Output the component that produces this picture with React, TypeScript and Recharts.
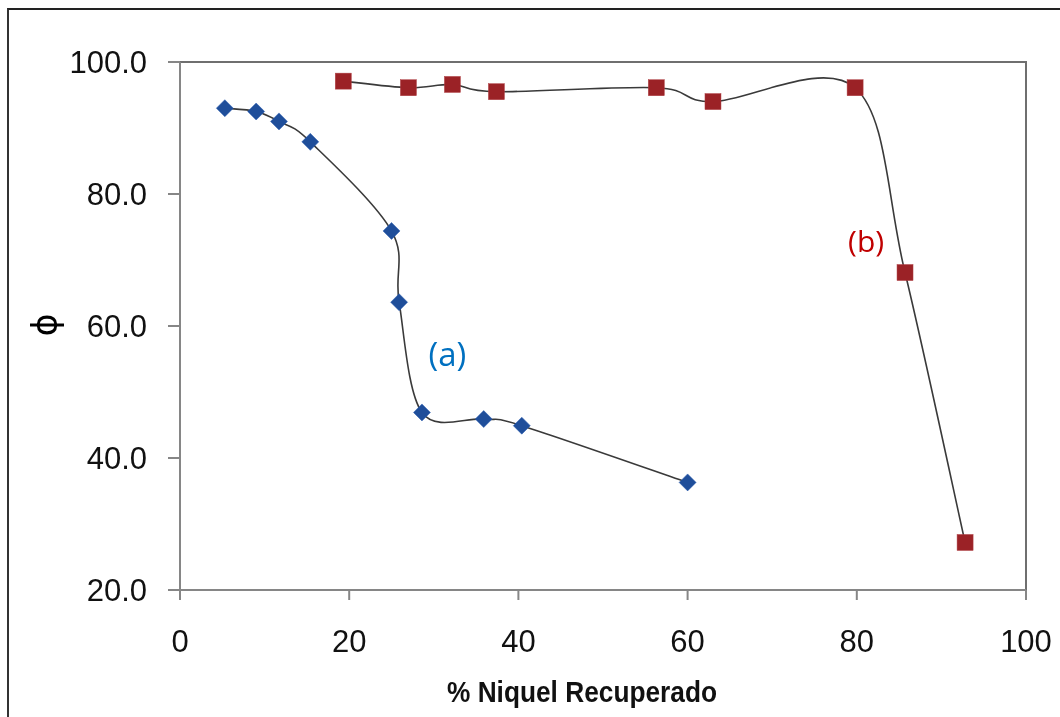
import React from 'react';
import { ComposedChart, Line, XAxis, YAxis, ReferenceArea, ReferenceDot } from 'recharts';

// Series (a): blue diamonds
const seriesAX = [5.3, 9.0, 11.7, 15.4, 25.0, 25.9, 28.6, 35.9, 40.4, 60.0];
const seriesAY = [93.0, 92.5, 91.0, 87.9, 74.4, 63.6, 46.9, 45.9, 44.9, 36.3];
// Series (b): red squares
const seriesBX = [19.3, 27.0, 32.2, 37.4, 56.3, 63.0, 79.8, 85.7, 92.8];
const seriesBY = [97.1, 96.1, 96.6, 95.5, 96.1, 94.0, 96.1, 68.1, 27.2];

const xTicks = [0, 20, 40, 60, 80, 100];
const yTicks = [20, 40, 60, 80, 100];

const xTitle = '% Niquel Recuperado';
const yTitle = 'ϕ';
const annotations = [
  { x: 31.6, y: 55.8, text: '(a)', color: '#0070C0', size: 33 },
  { x: 81.1, y: 72.9, text: '(b)', color: '#C00000', size: 30 },
];

const dataA = seriesAX.map((x, i) => ({ x, y: seriesAY[i] }));
const dataB = seriesBX.map((x, i) => ({ x, y: seriesBY[i] }));

// Excel-like smoothed curve (Catmull-Rom as cubic Bezier)
const excelCurve: any = (context: any) => {
  let pts: number[][] = [];
  return {
    areaStart() {},
    areaEnd() {},
    lineStart() {
      pts = [];
    },
    point(x: number, y: number) {
      pts.push([+x, +y]);
    },
    lineEnd() {
      const n = pts.length;
      if (!n) return;
      context.moveTo(pts[0][0], pts[0][1]);
      for (let i = 0; i < n - 1; i++) {
        const p0 = pts[i - 1] || pts[i];
        const p1 = pts[i];
        const p2 = pts[i + 1];
        const p3 = pts[i + 2] || pts[i + 1];
        context.bezierCurveTo(
          p1[0] + (p2[0] - p0[0]) / 6,
          p1[1] + (p2[1] - p0[1]) / 6,
          p2[0] - (p3[0] - p1[0]) / 6,
          p2[1] - (p3[1] - p1[1]) / 6,
          p2[0],
          p2[1]
        );
      }
    },
  };
};

const Diamond = (props: any) => {
  const { cx, cy, index } = props;
  if (cx == null || cy == null) return <g key={`d-${index}`} />;
  const r = 8.5;
  return (
    <path
      key={`d-${index}`}
      d={`M${cx},${cy - r}L${cx + r},${cy}L${cx},${cy + r}L${cx - r},${cy}Z`}
      fill="#1F4E9A"
      stroke="#2a5cb0"
      strokeWidth={0.5}
    />
  );
};

const Square = (props: any) => {
  const { cx, cy, index } = props;
  if (cx == null || cy == null) return <g key={`s-${index}`} />;
  const s = 16;
  return (
    <rect
      key={`s-${index}`}
      x={cx - s / 2}
      y={cy - s / 2}
      width={s}
      height={s}
      fill="#9B2226"
      stroke="#b04045"
      strokeWidth={0.5}
    />
  );
};

const FONT = '"Liberation Sans", Arial, sans-serif';

export default function App() {
  return (
    <div style={{ position: 'relative', width: 1044, height: 701 }}>
      <div
        style={{
          position: 'fixed',
          left: 7,
          top: 8,
          width: 1060,
          height: 717,
          borderTop: '2px solid #222',
          borderLeft: '2px solid #333',
          pointerEvents: 'none',
        }}
      />
      <ComposedChart
        width={1044}
        height={701}
        margin={{ top: 54, right: 26, left: 0, bottom: 0 }}
        style={{ fontFamily: FONT }}
      >
        <XAxis
          type="number"
          dataKey="x"
          domain={[0, 100]}
          ticks={xTicks}
          interval={0}
          height={119}
          tickSize={10}
          tickMargin={30}
          axisLine={{ stroke: '#868686', strokeWidth: 2 }}
          tickLine={{ stroke: '#868686', strokeWidth: 2 }}
          tick={{ fill: '#111', fontSize: 31, fontFamily: FONT }}
          allowDataOverflow
          label={{
            content: (p: any) => {
              const vb = p.viewBox || { x: 172, y: 582, width: 846 };
              return (
                <text
                  x={vb.x + vb.width / 2 - 21}
                  y={vb.y + 112}
                  textAnchor="middle"
                  fontFamily='"Liberation Sans Narrow", "Liberation Sans", sans-serif'
                  fontWeight="bold"
                  fontSize={29}
                  fill="#111"
                  textLength={270}
                  lengthAdjust="spacingAndGlyphs"
                >
                  {xTitle}
                </text>
              );
            },
          }}
        />
        <YAxis
          type="number"
          dataKey="y"
          domain={[20, 100]}
          ticks={yTicks}
          interval={0}
          width={172}
          tickSize={12}
          tickMargin={21}
          axisLine={{ stroke: '#868686', strokeWidth: 2 }}
          tickLine={{ stroke: '#868686', strokeWidth: 2 }}
          tick={{ fill: '#111', fontSize: 31, fontFamily: FONT }}
          tickFormatter={(v: number) => v.toFixed(1)}
          allowDataOverflow
          label={{
            content: (p: any) => {
              const vb = p.viewBox || { x: 0, y: 54, height: 528 };
              const cx = 37;
              const cy = vb.y + vb.height / 2 - 1;
              return (
                <text
                  x={cx}
                  y={cy}
                  textAnchor="middle"
                  dominantBaseline="central"
                  fontFamily='"DejaVu Sans", sans-serif'
                  fontSize={35}
                  fill="#000"
                  transform={`rotate(-90 ${cx} ${cy})`}
                >
                  {yTitle}
                </text>
              );
            },
          }}
        />
        <ReferenceArea
          x1={0}
          x2={100}
          y1={20}
          y2={100}
          fill="none"
          fillOpacity={0}
          stroke="#6f6f6f"
          strokeWidth={2}
          ifOverflow="visible"
        />
        <Line
          data={dataA}
          dataKey="y"
          type={excelCurve}
          stroke="#3a3a3a"
          strokeWidth={1.6}
          dot={Diamond}
          activeDot={false}
          isAnimationActive={false}
        />
        <Line
          data={dataB}
          dataKey="y"
          type={excelCurve}
          stroke="#3a3a3a"
          strokeWidth={1.6}
          dot={Square}
          activeDot={false}
          isAnimationActive={false}
        />
        {annotations.map((a) => (
          <ReferenceDot
            key={a.text}
            x={a.x}
            y={a.y}
            r={0}
            ifOverflow="visible"
            shape={(p: any) => (
              <text
                x={p.cx}
                y={p.cy}
                textAnchor="middle"
                dominantBaseline="central"
                fontFamily='"Open Sans", "Liberation Sans", sans-serif'
                fontSize={a.size}
                fill={a.color}
              >
                {a.text}
              </text>
            )}
          />
        ))}
      </ComposedChart>
    </div>
  );
}
